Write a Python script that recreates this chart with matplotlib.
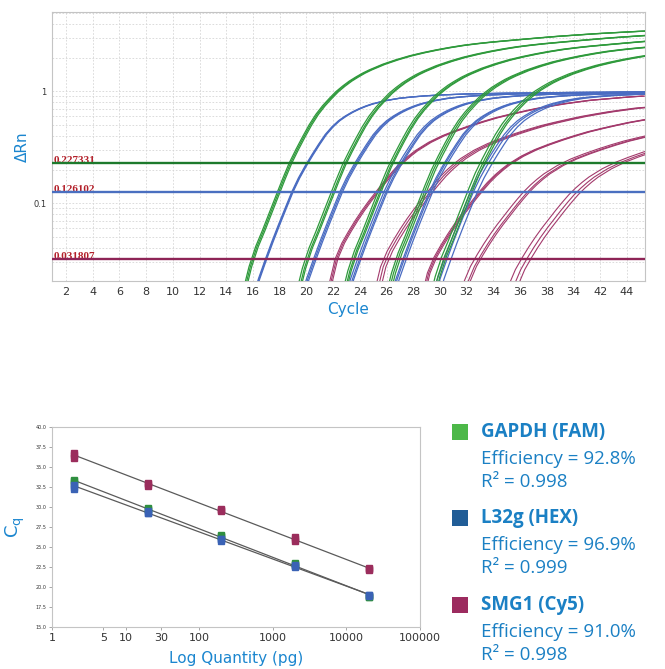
import numpy as np
import matplotlib
matplotlib.use("Agg")
import matplotlib.pyplot as plt
from matplotlib.patches import Rectangle

# ---------------- data ----------------
quantities = [2, 20, 200, 2000, 20000]  # pg

# Cq replicates per dilution (order follows quantities)
gapdh_cq = [[33.0, 33.2, 33.35], [29.6, 29.75, 29.9], [26.25, 26.4, 26.5],
            [22.75, 22.9, 23.0], [18.7, 18.8, 18.9]]
l32g_cq = [[32.3, 32.5, 32.8], [29.2, 29.3, 29.45], [25.8, 25.95, 26.05],
           [22.5, 22.6, 22.7], [18.9, 18.95, 19.0]]
smg1_cq = [[36.1, 36.5, 36.8], [32.6, 32.9, 33.05], [29.5, 29.6, 29.7],
           [25.8, 26.0, 26.2], [22.15, 22.25, 22.35]]

# plateau scale of each dilution group (order follows quantities)
gapdh_scale = [0.82, 0.88, 0.92, 0.97, 1.0]
l32g_scale = [1.0, 1.0, 1.0, 1.0, 1.0]
smg1_scale = [0.58, 0.62, 0.75, 0.85, 1.0]

# thresholds
thr_gapdh = 0.227331
thr_l32g = 0.126102
thr_smg1 = 0.031807

# amplification curve shapes (cycle offset from Cq, dRn)
gapdh_tpl_off = [-4, -3.5, -3, -2.5, -2, -1.5, -1, -0.5, 0, 0.5, 1, 1.5, 2, 2.5, 3,
                 3.5, 4, 4.5, 5, 5.5, 6, 7, 8, 9, 10, 11, 12, 13, 14, 15, 16, 17,
                 18, 19, 20, 21, 22, 23, 24, 25, 26, 27]
gapdh_tpl_val = [0.0085, 0.0155, 0.027, 0.041, 0.057, 0.081, 0.115, 0.163, 0.227,
                 0.30, 0.39, 0.50, 0.62, 0.74, 0.86, 0.99, 1.11, 1.23, 1.34, 1.45,
                 1.55, 1.74, 1.91, 2.07, 2.21, 2.34, 2.46, 2.57, 2.66, 2.74, 2.81,
                 2.88, 2.95, 3.02, 3.09, 3.15, 3.21, 3.27, 3.32, 3.37, 3.42, 3.46]
l32g_tpl_off = [-3, -2.5, -2, -1.5, -1, -0.5, 0, 0.5, 1, 1.5, 2, 2.5, 3, 3.5, 4, 4.5,
                5, 5.5, 6, 7, 8, 9, 10, 11, 12, 13, 14, 15, 16, 17, 18, 19, 20, 21,
                22, 23, 24, 25, 26, 27]
l32g_tpl_val = [0.013, 0.021, 0.031, 0.045, 0.064, 0.09, 0.126, 0.168, 0.215, 0.27,
                0.335, 0.41, 0.48, 0.545, 0.60, 0.65, 0.695, 0.735, 0.77, 0.825,
                0.865, 0.89, 0.91, 0.925, 0.935, 0.945, 0.95, 0.955, 0.96, 0.963,
                0.966, 0.969, 0.972, 0.975, 0.977, 0.979, 0.981, 0.983, 0.985, 0.987]
smg1_tpl_off = [-1, -0.5, 0, 0.5, 1, 1.5, 2, 2.5, 3, 3.5, 4, 4.5, 5, 5.5, 6, 7, 8, 9,
                10, 11, 12, 13, 14, 15, 16, 17, 18, 19, 20, 21, 22, 23]
smg1_tpl_val = [0.008, 0.018, 0.0318, 0.044, 0.056, 0.070, 0.086, 0.104, 0.124,
                0.148, 0.175, 0.205, 0.235, 0.265, 0.295, 0.35, 0.40, 0.445, 0.49,
                0.535, 0.58, 0.62, 0.66, 0.70, 0.735, 0.77, 0.80, 0.83, 0.85, 0.87,
                0.89, 0.905]

cycle_ticks = list(range(2, 46, 2))
cycle_labels = ['2', '4', '6', '8', '10', '12', '14', '16', '18', '20', '22', '24',
                '26', '28', '30', '32', '34', '36', '38', '34', '42', '44']

sc_yticks = [15.0, 17.5, 20.0, 22.5, 25.0, 27.5, 30.0, 32.5, 35.0, 37.5, 40.0]
sc_xticks = [1, 5, 10, 30, 100, 1000, 10000, 100000]

legend_names = ['GAPDH (FAM)', 'L32g (HEX)', 'SMG1 (Cy5)']
legend_eff = ['Efficiency = 92.8%', 'Efficiency = 96.9%', 'Efficiency = 91.0%']
legend_r2 = ['R\u00b2 = 0.998', 'R\u00b2 = 0.999', 'R\u00b2 = 0.998']

# ---------------- style ----------------
C_GREEN = '#2f9a3c'
C_BLUE = '#4a6cc2'
C_MAROON = '#a33a6c'
THR_GREEN = '#1d7a2c'
THR_BLUE = '#4a6fc0'
THR_MAROON = '#8e2456'
LABEL_BLUE = '#1b86cf'
TXT_BLUE = '#1b80c4'

W, H = 665, 669
fig = plt.figure(figsize=(W / 100, H / 100), dpi=100)
fig.patch.set_facecolor('white')


def fx(px):
    return px / W


def fy(py):
    return 1 - py / H


# ---------------- amplification plot ----------------
ax = fig.add_axes([fx(52), fy(281), fx(645) - fx(52), fy(12) - fy(281)])
ax.set_yscale('log')
ax.set_xlim(0.95, 45.35)
ax.set_ylim(0.0202, 5.1)

ax.set_xticks(cycle_ticks)
ax.set_xticklabels(cycle_labels, fontsize=8, color='#333333')
ax.set_yticks([0.1, 1])
ax.set_yticklabels(['0.1', '1'], fontsize=6, color='#333333')
ax.yaxis.set_minor_formatter(matplotlib.ticker.NullFormatter())
ax.tick_params(axis='both', which='both', length=0, pad=4)
ax.grid(True, which='both', axis='y', color='#d6d6d6', linestyle=(0, (2, 2)), linewidth=0.6)
ax.grid(True, which='major', axis='x', color='#d6d6d6', linestyle=(0, (2, 2)), linewidth=0.6)
ax.set_axisbelow(True)
for s in ax.spines.values():
    s.set_color('#c4c4c4')
    s.set_linewidth(0.8)


def draw_group(cqs, scales, thr, off, val, color, lw):
    off = np.array(off, dtype=float)
    val = np.array(val, dtype=float)
    for grp, sc in zip(cqs, scales):
        o_star = np.interp(np.log10(thr / sc), np.log10(val), off)
        for cq in grp:
            ax.plot(off + (cq - o_star), val * sc, color=color, lw=lw,
                    solid_capstyle='round', solid_joinstyle='round', zorder=3)


draw_group(smg1_cq, smg1_scale, thr_smg1, smg1_tpl_off, smg1_tpl_val, C_MAROON, 0.8)
draw_group(l32g_cq, l32g_scale, thr_l32g, l32g_tpl_off, l32g_tpl_val, C_BLUE, 0.9)
draw_group(gapdh_cq, gapdh_scale, thr_gapdh, gapdh_tpl_off, gapdh_tpl_val, C_GREEN, 0.9)

for thr, col in [(thr_gapdh, THR_GREEN), (thr_l32g, THR_BLUE), (thr_smg1, THR_MAROON)]:
    ax.axhline(thr, color=col, lw=1.7, zorder=5)
    ax.text(1.05, thr, f'{thr:.6f}', color='#b3202a', fontsize=8,
            fontweight='bold', family='Liberation Serif', ha='left', va='baseline',
            zorder=4)

ax.set_xlabel('Cycle', fontsize=11, color=LABEL_BLUE, family='DejaVu Sans', labelpad=4)
ax.set_ylabel('\u0394Rn', fontsize=11, color=LABEL_BLUE, family='DejaVu Sans')
ax.yaxis.set_label_coords(-0.037, 0.5)

# ---------------- standard curve ----------------
bx = fig.add_axes([fx(52), fy(627), fx(420) - fx(52), fy(427) - fy(627)])
bx.set_xscale('log')
bx.set_xlim(1, 100000)
bx.set_ylim(15, 40)
bx.set_yticks(sc_yticks)
bx.set_yticklabels([f'{v:.1f}' for v in sc_yticks], fontsize=3.5, color='#333333')
bx.set_xticks(sc_xticks)
bx.set_xticklabels([str(v) for v in sc_xticks], fontsize=8, color='#333333')
bx.xaxis.set_minor_locator(matplotlib.ticker.NullLocator())
bx.tick_params(axis='both', which='major', length=2, width=0.6, color='#999999', pad=2)
for s in bx.spines.values():
    s.set_color('#c4c4c4')
    s.set_linewidth(0.8)

for cqs, col in [(smg1_cq, '#9b2d5c'), (gapdh_cq, '#2f8f3f'), (l32g_cq, '#3a62b5')]:
    xs = np.repeat(quantities, [len(g) for g in cqs])
    ys = np.concatenate([np.array(g) for g in cqs])
    slope, icpt = np.polyfit(np.log10(xs), ys, 1)
    xl = np.array([quantities[0], quantities[-1]], dtype=float)
    bx.plot(xl, slope * np.log10(xl) + icpt, color='#5a5a5a', lw=0.9, zorder=2)
    bx.plot(xs, ys, ls='none', marker='s', ms=4, color=col, mec=col, zorder=3)

bx.set_xlabel('Log Quantity (pg)', fontsize=11, color=LABEL_BLUE, family='DejaVu Sans', labelpad=6)
bx.set_ylabel('C$_\\mathregular{q}$', fontsize=13, color=LABEL_BLUE, family='DejaVu Sans')
bx.yaxis.set_label_coords(-0.068, 0.5)

# ---------------- legend ----------------
sq_cols = ['#4cb848', '#215d97', '#9c2b5f']
sq_top = [424, 510, 597]
for i in range(3):
    fig.add_artist(Rectangle((fx(452), fy(sq_top[i] + 16)), fx(16), (16 / H),
                             transform=fig.transFigure, color=sq_cols[i], lw=0))
    fig.text(fx(481), fy(sq_top[i] + 8), legend_names[i], fontsize=13.5,
             fontweight='bold', color=TXT_BLUE, family='Open Sans', va='center', ha='left')
    fig.text(fx(481), fy(sq_top[i] + 35), legend_eff[i], fontsize=13.5,
             color=TXT_BLUE, family='Open Sans', va='center', ha='left')
    fig.text(fx(481), fy(sq_top[i] + 58), legend_r2[i], fontsize=13.5,
             color=TXT_BLUE, family='Open Sans', va='center', ha='left')

fig.savefig('out.png', dpi=100)
